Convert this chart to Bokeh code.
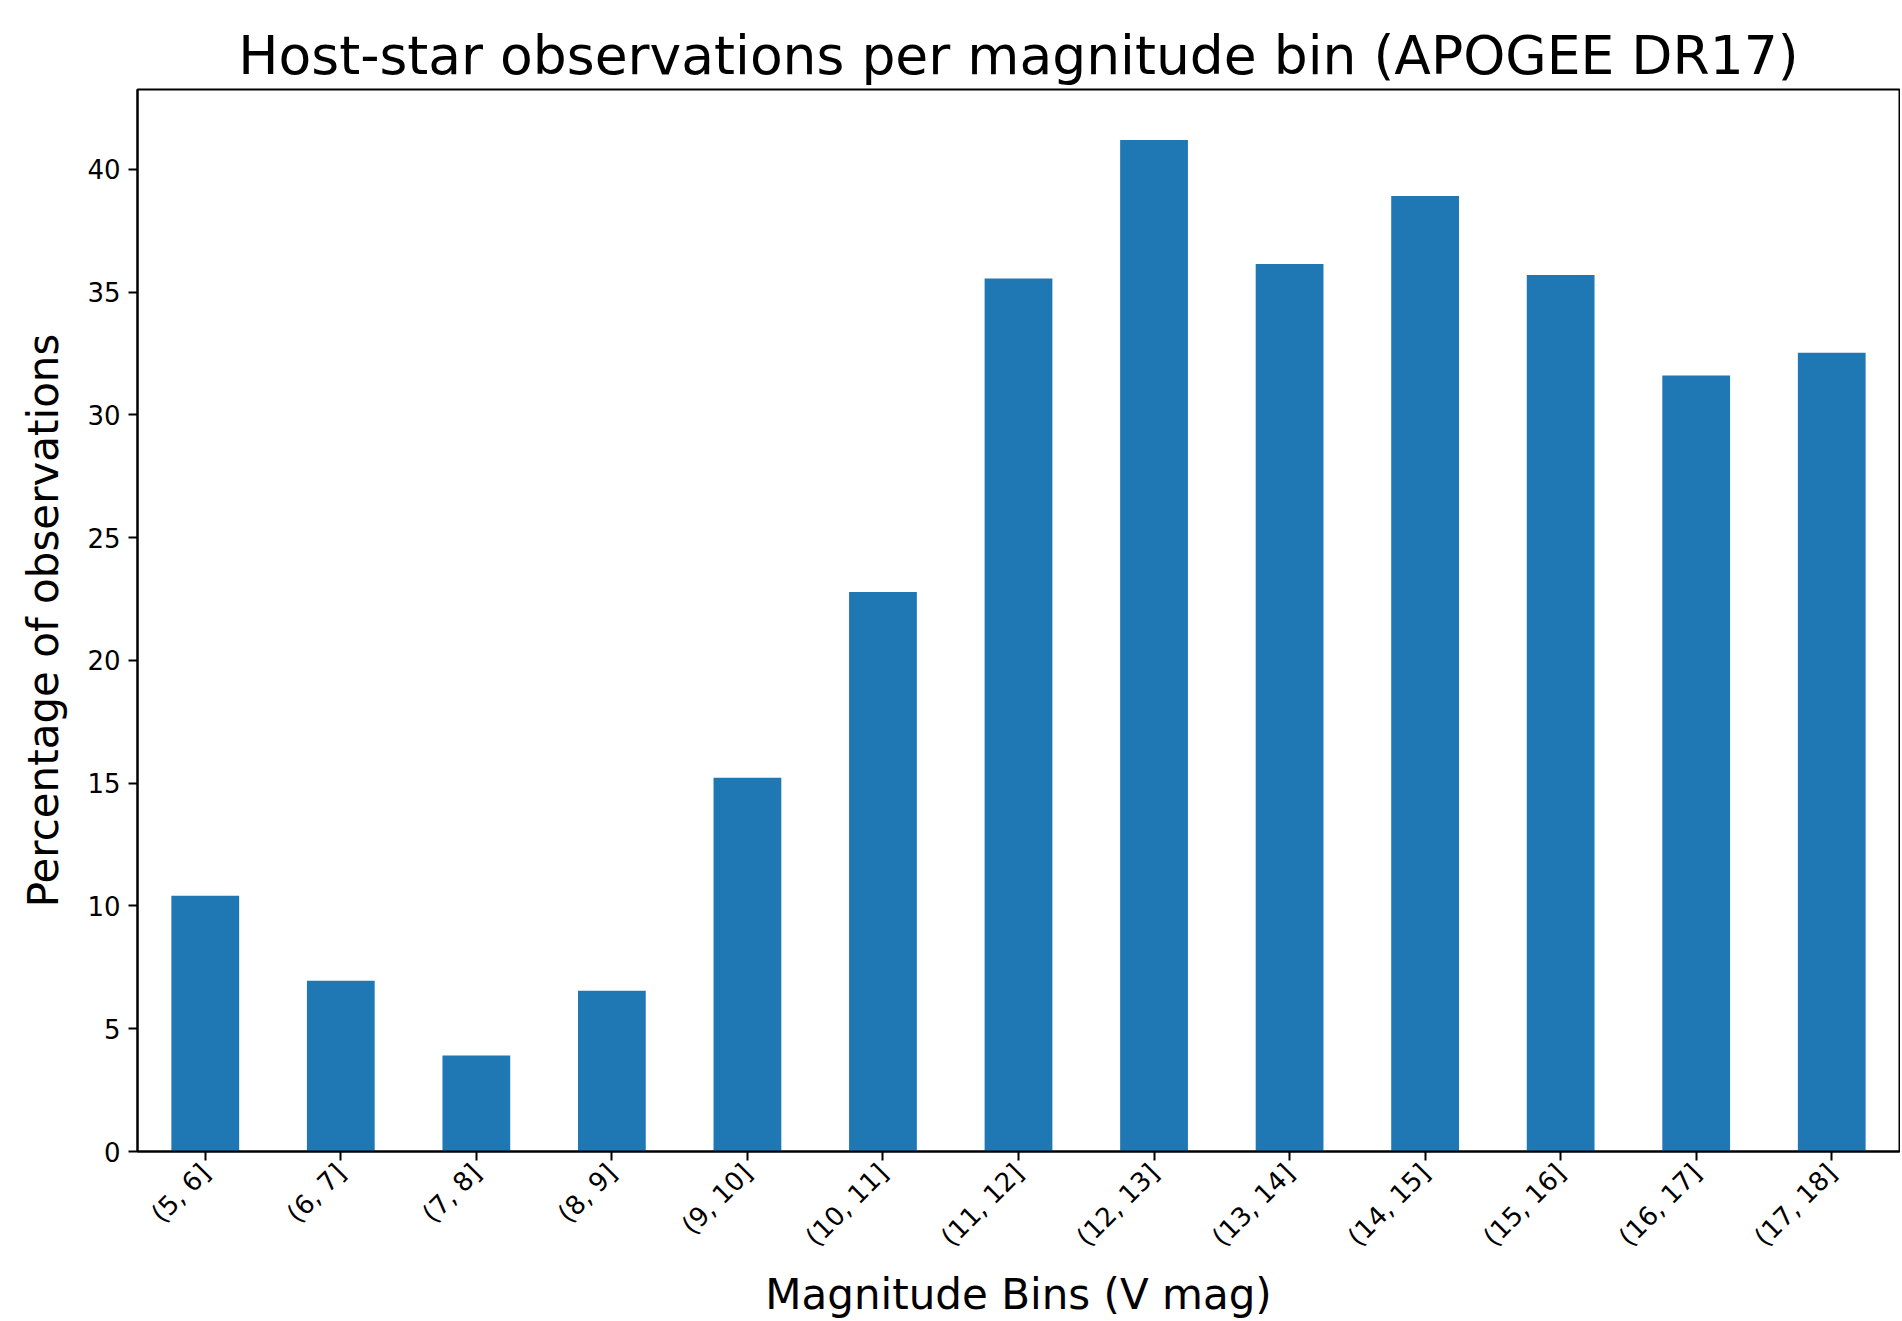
from math import pi
from bokeh.plotting import figure
from bokeh.models import FactorRange, Range1d, ColumnDataSource, FixedTicker
from bokeh.embed import file_html
from bokeh.resources import INLINE

# ---- data ----
bins = ["(5, 6]", "(6, 7]", "(7, 8]", "(8, 9]", "(9, 10]", "(10, 11]", "(11, 12]",
        "(12, 13]", "(13, 14]", "(14, 15]", "(15, 16]", "(16, 17]", "(17, 18]"]
percentages = [10.42, 6.95, 3.91, 6.55, 15.22, 22.79, 35.55,
               41.19, 36.14, 38.91, 35.70, 31.60, 32.53]
y_ticks = [0, 5, 10, 15, 20, 25, 30, 35, 40]

FONT = "DejaVu Sans"
src = ColumnDataSource(dict(bin=bins, pct=percentages))

p = figure(
    x_range=FactorRange(*bins),
    y_range=Range1d(0, max(percentages) * 1.05),
    width=1900, height=1321,
    min_border_left=137, min_border_right=1, min_border_top=89, min_border_bottom=170,
    output_backend="svg", toolbar_location=None,
    title="Host-star observations per magnitude bin (APOGEE DR17)",
)

p.vbar(x="bin", top="pct", width=0.5, source=src,
       fill_color="#1f77b4", line_color=None)

# title
p.title.text_font = FONT
p.title.text_font_size = "53.5px"
p.title.text_font_style = "normal"
p.title.align = "center"
p.title.text_color = "black"
p.title.standoff = 6

# frame
p.outline_line_color = "black"
p.outline_line_width = 2
p.outline_line_alpha = 1
p.xgrid.grid_line_color = None
p.ygrid.grid_line_color = None
p.background_fill_color = "white"
p.border_fill_color = "white"

for ax in (p.xaxis[0], p.yaxis[0]):
    ax.axis_line_color = "black"
    ax.axis_line_width = 2
    ax.major_tick_line_color = "black"
    ax.major_tick_line_width = 2
    ax.major_tick_out = 9
    ax.major_tick_in = 0
    ax.minor_tick_out = 0
    ax.minor_tick_in = 0
    ax.major_label_text_font = FONT
    ax.major_label_text_font_size = "26px"
    ax.major_label_text_color = "black"
    ax.axis_label_text_font = FONT
    ax.axis_label_text_font_size = "42px"
    ax.axis_label_text_font_style = "normal"
    ax.axis_label_text_color = "black"

p.xaxis.major_label_orientation = pi / 4
p.xaxis.major_label_standoff = 8
p.xaxis.axis_label = "Magnitude Bins (V mag)"
p.xaxis.axis_label_standoff = 4

p.yaxis.ticker = FixedTicker(ticks=y_ticks)
p.yaxis.major_label_standoff = 8
p.yaxis.axis_label = "Percentage of observations"
p.yaxis.axis_label_standoff = 16

open("out.html", "w").write(file_html(p, INLINE))
